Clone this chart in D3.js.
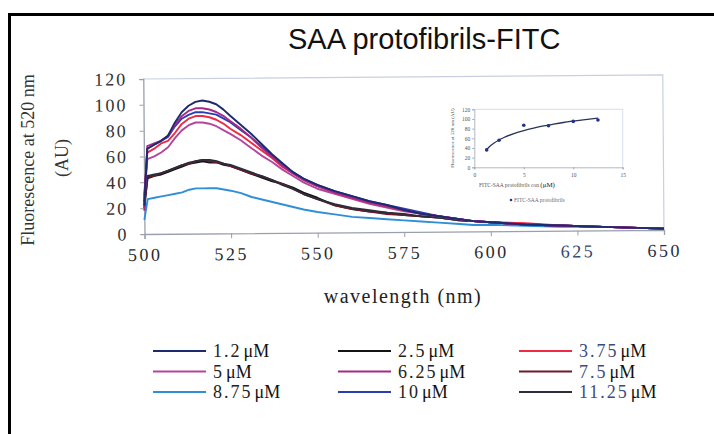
<!DOCTYPE html>
<html>
<head>
<meta charset="utf-8">
<script src="https://cdn.jsdelivr.net/npm/d3@7/dist/d3.min.js"></script>
<style>
  body { margin: 0; background: #fff; }
</style>
</head>
<body>
<div id="chart"></div>
<script>
// spectra (wavelength in nm, fluorescence in AU)
var wavelengths = [500,501,503,505,507,509,511,513,515,517,519,521,523,525,528,531,534,537,540,543,546,550,555,560,565,570,575,580,585,590,595,600,610,620,630,640,650];

var fl_1_2  = [22,66,69,72,76,86,94,99,102,103,102,100,96,91,84,77,69,61,54,47,42,37,32,28,24,21,17,14,12,10,8,7,5,4,3,2,1];
var fl_2_5  = [20,43,45,46,48,50,52,54,55,56,55,55,53,52,49,46,43,40,38,35,31,27,21,18,16,15,13,12,11,9,8,7,5,4,3,2,1];
var fl_3_75 = [30,63,66,70,72,78,85,89,91,91,90,88,85,81,76,70,64,58,51,46,41,36,31,27,23,20,17,14,12,10,8,7,6,4,3,2,1];
var fl_5    = [28,58,60,63,67,74,80,84,86,86,85,83,80,77,72,66,60,55,49,44,39,34,30,26,22,19,16,14,12,10,8,7,5,4,3,2,1];
var fl_6_25 = [18,68,70,72,76,84,91,95,97,97,96,94,91,87,81,74,66,59,52,46,41,36,31,27,23,20,17,14,12,10,8,7,5,4,3,2,1];
var fl_7_5  = [22,44,45,47,49,51,53,54,56,57,56,55,54,52,49,46,44,41,38,34,30,26,21,18,16,14,13,12,11,9,8,7,5,4,3,2,1];
var fl_8_75 = [11,27,28,29,30,31,32,34,35,35,35,35,34,33,31,28,26,24,22,20,18,16,14,12,11,10,9,8,7,6,5,5,4,3,3,2,1];
var fl_10   = [25,66,69,72,75,83,89,92,94,94,93,92,89,86,80,74,67,60,53,47,42,37,32,28,24,21,18,15,12,10,8,7,5,4,3,2,1];
var fl_11_25= [25,45,46,47,49,51,53,55,56,57,57,56,54,53,50,47,44,41,37,34,30,26,22,19,17,15,14,12,11,9,8,7,5,4,3,2,1];

var concLabels = ["1.2","2.5","3.75","5","6.25","7.5","8.75","10","11.25"];
var allValues = [fl_1_2, fl_2_5, fl_3_75, fl_5, fl_6_25, fl_7_5, fl_8_75, fl_10, fl_11_25];
var lineColors = ["#1c2a6e","#141414","#ee2a45","#b4459e","#a52a86","#6e1a2a","#2f8fd6","#2a3cb8","#2b2d3d"];
var labelColors = ["#222","#222","#3d4b7c","#222","#222","#3d4b7c","#222","#222","#3d4b7c"];
var drawOrder = [6,1,5,8,3,2,7,4,0];

var xTicks = [500,525,550,575,600,625,650];
var yTicks = [0,20,40,60,80,100,120];

// inset: fluorescence at 520 nm vs concentration
var insetConc  = [1.25,2.5,5,7.5,10,12.5];
var insetFluor = [36,56,87,86,95,98];
var fitConc  = [1.2,1.5,2,2.5,3,4,5,6,7,8,9,10,11,12.5];
var fitFluor = [35.8,42.1,50.2,56.5,61.7,69.8,76.1,81.2,85.6,89.3,92.7,95.6,98.3,101.9];
var insetXTicks = [0,5,10,15];
var insetYTicks = [0,20,40,60,80,100,120];

var W = 714, H = 434;
var serif = "'Liberation Serif','Times New Roman',serif";

var svg = d3.select("#chart")
  .append("svg")
    .attr("width", W)
    .attr("height", H)
    .style("background", "#fff");

// black frame (top + left)
svg.append("path")
    .attr("d", "M9.5," + H + "V14.5H" + W)
    .attr("fill", "none")
    .attr("stroke", "#000")
    .attr("stroke-width", 3);

// title
svg.append("text")
    .attr("x", 288)
    .attr("y", 49)
    .style("font-family", "Arial,'Liberation Sans',sans-serif")
    .style("font-size", "29px")
    .attr("fill", "#111")
    .text("SAA protofibrils-FITC");

// main plot, slightly tilted like the scan
var x0 = 144.5, y0 = 234;
var x = d3.scaleLinear().domain([500, 650]).range([x0, 664]);
var y = d3.scaleLinear().domain([0, 120]).range([y0, 79]);

var g = svg.append("g")
    .attr("transform", "rotate(-0.45," + x0 + "," + y0 + ")");

// plot area border (top + right)
g.append("path")
    .attr("d", "M" + x(500) + "," + y(120) + "H" + x(650) + "V" + y(0))
    .attr("fill", "none")
    .attr("stroke", "#c9cfe2")
    .attr("stroke-width", 1.2);

var xAxis = g.append("g")
    .attr("transform", "translate(0," + y0 + ")")
    .call(d3.axisBottom(x).tickValues(xTicks).tickSize(5).tickPadding(9));
xAxis.select(".domain").attr("stroke", "#9a9fae").attr("stroke-width", 1.3);
xAxis.selectAll(".tick line").attr("stroke", "#9a9fae");
xAxis.selectAll(".tick text")
    .style("font-family", serif)
    .style("font-size", "18px")
    .style("letter-spacing", "2.5px")
    .attr("fill", function(d) { return d == 625 ? "#34456e" : (d == 650 ? "#263048" : "#2a2a2a"); });

var yAxis = g.append("g")
    .attr("transform", "translate(" + x0 + ",0)")
    .call(d3.axisLeft(y).tickValues(yTicks).tickSize(4).tickPadding(12));
yAxis.select(".domain").attr("stroke", "#9a9fae").attr("stroke-width", 1.3);
yAxis.selectAll(".tick line").attr("stroke", "#9a9fae");
yAxis.selectAll(".tick text")
    .style("font-family", serif)
    .style("font-size", "18px")
    .style("letter-spacing", "2px")
    .attr("fill", "#333");

// spectra
var line = d3.line()
    .x(function(d, i) { return x(wavelengths[i]); })
    .y(function(d) { return y(d); });

drawOrder.forEach(function(k) {
  g.append("path")
      .datum(allValues[k])
      .attr("fill", "none")
      .attr("stroke", lineColors[k])
      .attr("stroke-width", 1.9)
      .attr("stroke-linejoin", "round")
      .attr("d", line);
});

// axis titles
svg.append("text")
    .attr("transform", "translate(34,160) rotate(-90)")
    .attr("text-anchor", "middle")
    .style("font-family", serif)
    .style("font-size", "18px")
    .attr("fill", "#333")
    .text("Fluorescence at 520 nm");
svg.append("text")
    .attr("transform", "translate(68,158) rotate(-90)")
    .attr("text-anchor", "middle")
    .style("font-family", serif)
    .style("font-size", "18px")
    .attr("fill", "#333")
    .text("(AU)");

svg.append("text")
    .attr("x", 403)
    .attr("y", 303)
    .attr("text-anchor", "middle")
    .style("font-family", serif)
    .style("font-size", "20px")
    .style("letter-spacing", "1.5px")
    .attr("fill", "#222")
    .text("wavelength (nm)");

// inset chart
var ix = d3.scaleLinear().domain([0, 15]).range([474.3, 622.7]);
var iy = d3.scaleLinear().domain([0, 120]).range([167.3, 109.3]);

svg.append("path")
    .attr("d", "M" + ix(0) + "," + iy(120) + "H" + ix(15) + "V" + iy(0))
    .attr("fill", "none")
    .attr("stroke", "#cdd3e6")
    .attr("stroke-width", 0.8);

var ixAxis = svg.append("g")
    .attr("transform", "translate(0," + iy(0) + ")")
    .call(d3.axisBottom(ix).tickValues(insetXTicks).tickSize(2).tickPadding(4));
var iyAxis = svg.append("g")
    .attr("transform", "translate(" + ix(0) + ",0)")
    .call(d3.axisLeft(iy).tickValues(insetYTicks).tickSize(2).tickPadding(2));
[ixAxis, iyAxis].forEach(function(a) {
  a.select(".domain").attr("stroke", "#a0a4b0").attr("stroke-width", 0.8);
  a.selectAll(".tick line").attr("stroke", "#a0a4b0");
  a.selectAll(".tick text")
      .style("font-family", serif)
      .style("font-size", "5.5px")
      .attr("fill", "#555");
});

svg.append("path")
    .datum(fitFluor)
    .attr("fill", "none")
    .attr("stroke", "#2a3358")
    .attr("stroke-width", 1.3)
    .attr("d", d3.line()
      .x(function(d, i) { return ix(fitConc[i]); })
      .y(function(d) { return iy(d); })
      .curve(d3.curveMonotoneX));

svg.selectAll(".ipt")
  .data(insetFluor)
  .enter()
  .append("circle")
    .attr("class", "ipt")
    .attr("cx", function(d, i) { return ix(insetConc[i]); })
    .attr("cy", function(d) { return iy(d); })
    .attr("r", 1.8)
    .attr("fill", "#22338a");

svg.append("text")
    .attr("transform", "translate(454,138) rotate(-90)")
    .attr("text-anchor", "middle")
    .style("font-family", serif)
    .style("font-size", "5px")
    .attr("fill", "#444")
    .text("Fluorescence at 520 nm (AU)");

var ixl = svg.append("text")
    .attr("x", 517)
    .attr("y", 187)
    .attr("text-anchor", "middle")
    .style("font-family", serif)
    .style("font-size", "5.5px")
    .attr("fill", "#555");
ixl.append("tspan").text("FITC-SAA protofibrils con ");
ixl.append("tspan").style("font-size", "7px").attr("fill", "#222").text("(\u03bcM)");

svg.append("circle")
    .attr("cx", 511)
    .attr("cy", 200)
    .attr("r", 1.3)
    .attr("fill", "#22338a");
svg.append("text")
    .attr("x", 514)
    .attr("y", 202)
    .style("font-family", serif)
    .style("font-size", "5.5px")
    .attr("fill", "#667")
    .text("FITC-SAA protofibrils");

// legend, 3 columns x 3 rows
var legCols = [153, 338, 519];
var legRows = [351, 371.5, 392];

concLabels.forEach(function(lab, k) {
  var cx = legCols[k % 3], cy = legRows[Math.floor(k / 3)];
  svg.append("line")
      .attr("x1", cx).attr("x2", cx + 53)
      .attr("y1", cy).attr("y2", cy)
      .attr("stroke", lineColors[k])
      .attr("stroke-width", 1.8);
  var t = svg.append("text")
      .attr("x", cx + 60)
      .attr("y", cy + 6)
      .style("font-family", serif)
      .style("font-size", "18px");
  t.append("tspan")
      .style("letter-spacing", "2px")
      .attr("fill", labelColors[k])
      .text(lab);
  t.append("tspan")
      .attr("dx", 2)
      .attr("fill", "#111")
      .text("\u03bcM");
});
</script>
</body>
</html>
